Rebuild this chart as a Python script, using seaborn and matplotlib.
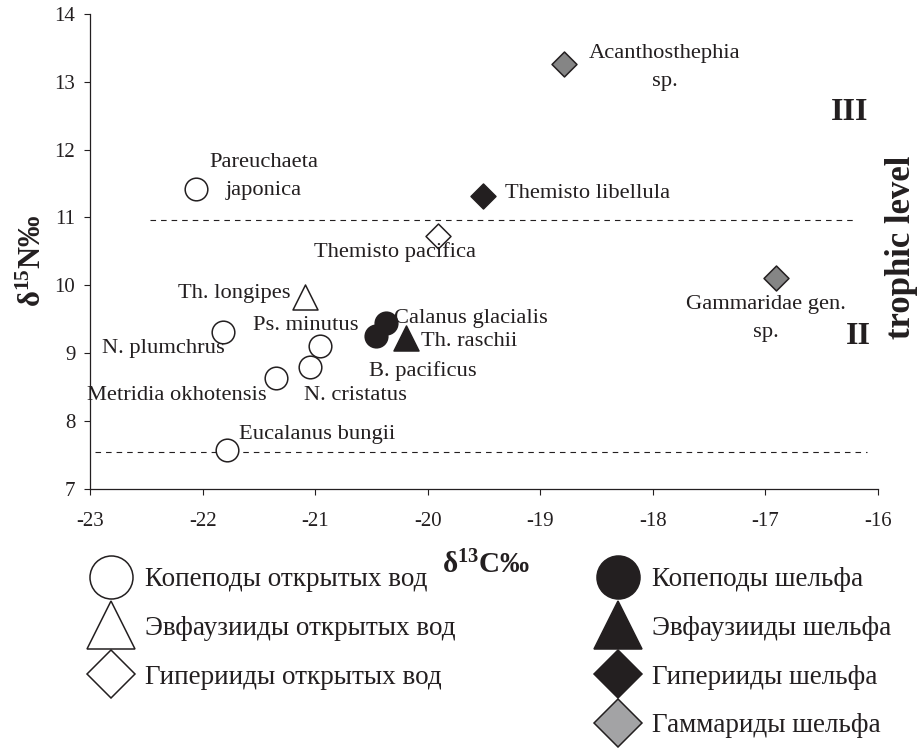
import matplotlib
matplotlib.use("Agg")
import matplotlib.pyplot as plt
import seaborn as sns
import pandas as pd
from matplotlib.lines import Line2D

# ---- data -------------------------------------------------------------
species = ["Pareuchaeta\njaponica", "N. plumchrus", "Ps. minutus", "N. cristatus",
           "Metridia okhotensis", "Eucalanus bungii", "Th. longipes",
           "Themisto pacifica", "Calanus glacialis", "B. pacificus", "Th. raschii",
           "Themisto libellula", "Acanthosthephia\nsp.", "Gammaridae gen.\nsp."]
d13c = [-22.06, -21.82, -20.96, -21.05, -21.35, -21.78, -21.09,
        -19.91, -20.37, -20.46, -20.19, -19.51, -18.79, -16.91]
d15n = [11.42, 9.31, 9.10, 8.79, 8.63, 7.57, 9.83,
        10.73, 9.44, 9.25, 9.22, 11.31, 13.26, 10.10]
group = ["Копеподы открытых вод"] * 6 + [
    "Эвфаузииды открытых вод", "Гиперииды открытых вод",
    "Копеподы шельфа", "Копеподы шельфа", "Эвфаузииды шельфа",
    "Гиперииды шельфа", "Гаммариды шельфа", "Гаммариды шельфа"]

groups_left = ["Копеподы открытых вод", "Эвфаузииды открытых вод", "Гиперииды открытых вод"]
groups_right = ["Копеподы шельфа", "Эвфаузииды шельфа", "Гиперииды шельфа", "Гаммариды шельфа"]

# trophic level boundaries (delta15N) and their x extents
level_y = [10.96, 7.54]
level_x0 = [-22.47, -22.96]
level_x1 = [-16.20, -16.10]

x_ticks = [-23, -22, -21, -20, -19, -18, -17, -16]
y_ticks = [7, 8, 9, 10, 11, 12, 13, 14]

# ---- styles -------------------------------------------------------------
INK = "#231f20"
styles = {
    "Копеподы открытых вод":   dict(marker="o", fc="white",   ms=16.3),
    "Эвфаузииды открытых вод": dict(marker="^", fc="white",   ms=18.0),
    "Гиперииды открытых вод":  dict(marker="D", fc="white",   ms=12.7),
    "Копеподы шельфа":         dict(marker="o", fc=INK,       ms=16.3),
    "Эвфаузииды шельфа":       dict(marker="^", fc=INK,       ms=18.0),
    "Гиперииды шельфа":        dict(marker="D", fc=INK,       ms=12.7),
    "Гаммариды шельфа":        dict(marker="D", fc="#858585", ms=12.7),
}
legend_fc = {"Гаммариды шельфа": "#a3a3a5"}

# label offsets in pixels (dx right, dy down) and horizontal alignment
label_pos = {
    "Pareuchaeta\njaponica": (68, -12, "center"),
    "N. plumchrus": (2, 17, "right"),
    "Ps. minutus": (-14, -21, "center"),
    "N. cristatus": (-6, 28, "left"),
    "Metridia okhotensis": (-9, 17, "right"),
    "Eucalanus bungii": (12, -15, "left"),
    "Th. longipes": (-14, -3, "right"),
    "Themisto pacifica": (38, 16, "right"),
    "Calanus glacialis": (8, -5, "left"),
    "B. pacificus": (-7, 35, "left"),
    "Th. raschii": (15, 3, "left"),
    "Themisto libellula": (22, -3, "left"),
    "Acanthosthephia\nsp.": (101, 3, "center"),
    "Gammaridae gen.\nsp.": (-10, 40, "center"),
}

df = pd.DataFrame({"species": species, "d13c": d13c, "d15n": d15n, "group": group})

sns.set_theme(style="white")
plt.rcParams["font.family"] = ["Liberation Serif", "DejaVu Serif"]
plt.rcParams["mathtext.fontset"] = "custom"
plt.rcParams["mathtext.rm"] = "Liberation Serif"
plt.rcParams["mathtext.bf"] = "Liberation Serif:bold"
plt.rcParams["mathtext.it"] = "Liberation Serif:italic"

DPI = 100
fig = plt.figure(figsize=(923 / DPI, 748 / DPI), dpi=DPI)
AX_L, AX_R, AX_T, AX_B = 90, 878, 14, 488.5
ax = fig.add_axes([AX_L / 923, 1 - AX_B / 748, (AX_R - AX_L) / 923, (AX_B - AX_T) / 748])


def ax_frac(px, py):
    return (px - AX_L) / (AX_R - AX_L), (AX_B - py) / (AX_B - AX_T)


for g, sub in df.groupby("group", sort=False):
    st = styles[g]
    sns.scatterplot(data=sub, x="d13c", y="d15n", marker=st["marker"],
                    s=st["ms"] ** 2, color=st["fc"], edgecolor=INK,
                    linewidth=1.1, ax=ax, legend=False, zorder=3)

for y, x0, x1 in zip(level_y, level_x0, level_x1):
    ax.hlines(y, x0, x1, colors=INK, linestyles=(0, (5, 4.5)), linewidth=0.8, zorder=2)

px2pt = 72 / DPI
for _, r in df.iterrows():
    dx, dy, ha = label_pos[r["species"]]
    ax.annotate(r["species"], (r["d13c"], r["d15n"]),
                xytext=(dx * px2pt, -dy * px2pt), textcoords="offset points",
                ha=ha, va="center", multialignment="center", linespacing=1.65,
                fontsize=16.2, color=INK, zorder=4)

ax.set_xlim(-23, -16)
ax.set_ylim(7, 14)
ax.set_xticks(x_ticks)
ax.set_yticks(y_ticks)
ax.set_xticklabels([str(v) for v in x_ticks])
ax.set_yticklabels([str(v) for v in y_ticks])
ax.tick_params(axis="both", direction="out", length=4.5, width=0.8, color=INK,
               labelsize=15, labelcolor=INK, left=True, bottom=True)
ax.tick_params(axis="x", pad=12.5)
ax.tick_params(axis="y", pad=6)
sns.despine(ax=ax)
for sp in ("left", "bottom"):
    ax.spines[sp].set_color(INK)
    ax.spines[sp].set_linewidth(0.9)

ax.set_xlabel(r"$\mathbf{δ^{13}C‰}$", fontsize=21, color=INK)
ax.set_ylabel(r"$\mathbf{δ^{15}N‰}$", fontsize=22, color=INK)
ax.xaxis.set_label_coords(*ax_frac(486, 551))
ax.yaxis.set_label_coords(*ax_frac(48, 261))

ax.text(*ax_frac(850, 112), "III", transform=ax.transAxes, fontsize=23,
        fontweight="bold", color=INK, ha="center", va="center")
ax.text(*ax_frac(858, 337), "II", transform=ax.transAxes, fontsize=23,
        fontweight="bold", color=INK, ha="center", va="center")
fig.text(902 / 923, 1 - 247 / 748, "trophic level", rotation=90, fontsize=25,
         fontweight="bold", color=INK, ha="center", va="center")

# ---- legend -------------------------------------------------------------
def handle(g):
    st = styles[g]
    ms = st["ms"] * 1.9
    return Line2D([], [], ls="", marker=st["marker"], markersize=ms,
                  markerfacecolor=legend_fc.get(g, st["fc"]),
                  markeredgecolor=INK, markeredgewidth=1.1)


leg_kw = dict(loc="upper left", frameon=False, fontsize=19.5, handlelength=1.6,
              handletextpad=0.45, labelspacing=0.88, borderpad=0,
              borderaxespad=0, labelcolor=INK)
fig.legend([handle(g) for g in groups_left], groups_left,
           bbox_to_anchor=(89 / 923, 1 - 567 / 748), **leg_kw)
fig.legend([handle(g) for g in groups_right], groups_right,
           bbox_to_anchor=(596 / 923, 1 - 567 / 748), **leg_kw)

fig.savefig("out.png", dpi=DPI)
